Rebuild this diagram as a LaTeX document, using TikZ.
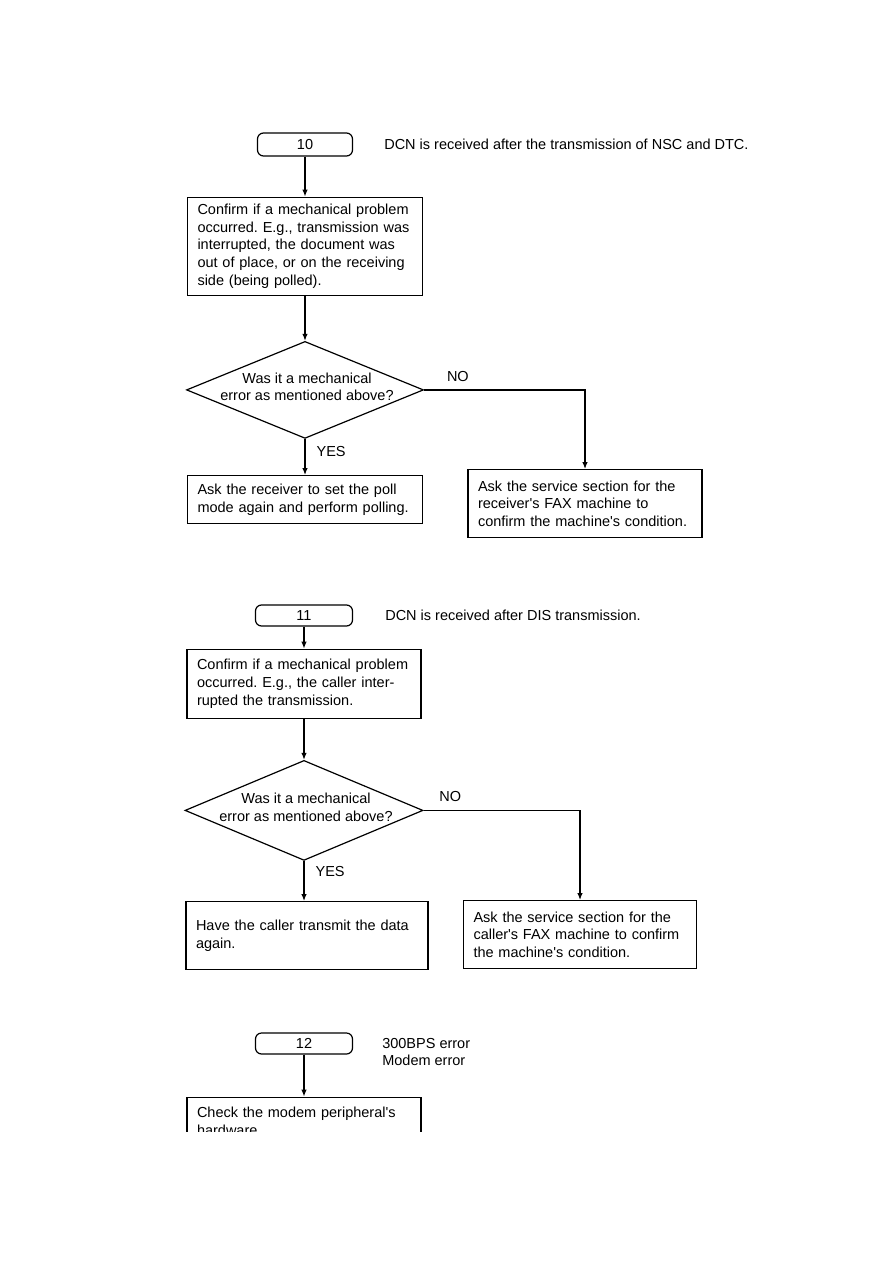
\documentclass[tikz,border=0pt]{standalone}
\usepackage{fontspec}
\setmainfont{Liberation Sans}
\usetikzlibrary{shapes.geometric, arrows.meta, positioning}
\newcommand{\flowfont}{\fontsize{14.5}{17.7}\selectfont\frenchspacing}
\newcommand{\ap}{\textquotesingle}

\begin{document}
\begin{tikzpicture}[
    x=1pt, y=-1pt,
    font=\flowfont,
    term/.style={
        rectangle, rounded corners=6pt,
        minimum width=95pt, minimum height=23pt,
        inner sep=0pt, draw, line width=1.2pt
    },
    box/.style={
        rectangle, draw, line width=1.2pt,
        align=left, inner xsep=10pt, inner ysep=0pt
    },
    decision/.style={
        diamond, draw, line width=1.2pt, inner sep=0pt,
        minimum width=237pt, minimum height=97pt
    },
    note/.style={align=left, inner sep=0pt},
    lbl/.style={inner sep=2pt},
    arr/.style={-{Latex[length=7pt, width=5.5pt]}, line width=1.2pt},
]

\useasboundingbox (0,0) rectangle (893,1263);

%% ---- CHART 10 ----
\node[term] (t10) at (305,144.5) {10};
\node[note, right=31pt of t10] (n10) {DCN is received after the transmission of NSC and DTC.};
\node[box, below=40pt of t10, text width=215pt, minimum height=98pt] (c10)
    {Confirm if a mechanical problem\\occurred. E.g., transmission was\\interrupted, the document was\\out of place, or on the receiving\\side (being polled).};
\node[decision, below=45pt of c10,
      label={[align=center, yshift=3pt, xshift=2pt]center:{Was it a mechanical\\error as mentioned above?}}] (d10) {};
\node[box, below=36pt of d10, text width=215pt, minimum height=48pt] (yes10)
    {Ask the receiver to set the poll\\mode again and perform polling.};
\node[box, anchor=north, text width=214pt, minimum height=68pt] (no10) at (585,469)
    {Ask the service section for the\\receiver\ap s FAX machine to\\confirm the machine\ap s condition.};

\draw[arr] (t10) -- (c10);
\draw[arr] (c10) -- (d10);
\draw[arr] (d10) -- node[lbl, right=9pt, pos=0.36]{YES} (yes10);
\draw[arr] (d10.east) -- node[lbl, above=6pt, pos=0.21]{NO} (d10.east -| no10.north) -- (no10.north);

%% ---- CHART 11 ----
\node[term, minimum width=97pt, minimum height=21pt] (t11) at (304,615.5) {11};
\node[note, right=32pt of t11] (n11) {DCN is received after DIS transmission.};
\node[box, below=22pt of t11, text width=214pt, minimum height=69pt] (c11)
    {Confirm if a mechanical problem\\occurred. E.g., the caller inter-\\rupted the transmission.};
\node[decision, below=41pt of c11, minimum width=238pt, minimum height=100pt,
      label={[align=center, yshift=3pt, xshift=2pt]center:{Was it a mechanical\\error as mentioned above?}}] (d11) {};
\node[box, below=40pt of d11, xshift=3pt, text width=222pt, minimum height=68pt] (yes11)
    {Have the caller transmit the data\\again.};
\node[box, anchor=north, text width=213pt, minimum height=68pt] (no11) at (580,900)
    {Ask the service section for the\\caller\ap s FAX machine to confirm\\the machine\ap s condition.};

\draw[arr] (t11) -- (c11);
\draw[arr] (c11) -- (d11);
\draw[arr] (d11) -- node[lbl, right=9pt, pos=0.27]{YES} (d11 |- yes11.north);
\draw[arr] (d11.east) -- node[lbl, above=6pt, pos=0.17]{NO} (d11.east -| no11.north) -- (no11.north);

%% ---- CHART 12 ----
\node[term, minimum width=97pt, minimum height=21pt] (t12) at (304,1043.5) {12};
\node[note, right=29pt of t12, yshift=-8.5pt] (n12) {300BPS error\\Modem error};
\begin{scope}
    \clip (0,0) rectangle (893,1131);
    \node[box, below=42pt of t12, text width=214pt, minimum height=48pt] (c12)
        {Check the modem peripheral\ap s\\hardware.};
\end{scope}

\draw[arr] (t12) -- (c12);

\end{tikzpicture}
\end{document}
